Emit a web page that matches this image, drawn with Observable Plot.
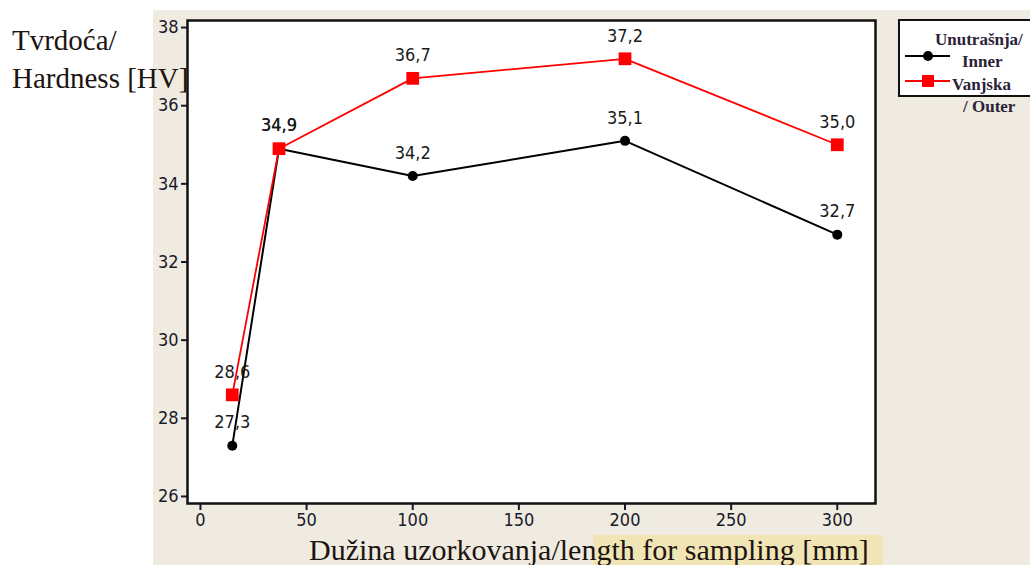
<!DOCTYPE html>
<html>
<head>
<meta charset="utf-8">
<script src="https://cdn.jsdelivr.net/npm/d3@7"></script>
<script src="https://cdn.jsdelivr.net/npm/@observablehq/plot@0.6"></script>
<style>
  html, body { margin: 0; padding: 0; background: #ffffff; }
  #page { position: relative; width: 1030px; height: 565px; overflow: hidden; background: #ffffff; }
  #panel { position: absolute; left: 153px; top: 10px; right: 0; bottom: 0; background: #efebe1; }
  #hl { position: absolute; left: 593px; top: 535px; width: 290px; height: 30px; background: #f1e5b6; }
  #chart { position: absolute; left: 0; top: 0; }
  .title { position: absolute; font-family: "Liberation Serif", "DejaVu Serif", serif; color: #1c1410; white-space: nowrap; }
  #ytitle { left: 12px; top: 21px; font-size: 29px; line-height: 38px; }
  #xtitle { left: 309px; top: 533px; font-size: 30px; line-height: 34px; }
  #legend { position: absolute; left: 898px; top: 19px; width: 140px; height: 78px; background: #ffffff; border: 2px solid #111; box-sizing: border-box; overflow: visible; }
  .lg { position: absolute; font-family: "Liberation Serif", "DejaVu Serif", serif; font-weight: bold; font-size: 17px; line-height: 20px; color: #2a2238; white-space: nowrap; }
</style>
</head>
<body>
<div id="page">
  <div id="panel"></div>
  <div id="hl"></div>
  <div id="legend"></div>
  <div id="chart"></div>
  <div class="title" id="ytitle">Tvrdoća/<br>Hardness [HV]</div>
  <div class="title" id="xtitle">Dužina uzorkovanja/length for sampling [mm]</div>
</div>
<script>
// Sampling lengths (mm) and hardness values (HV)
const lengths = [15, 37, 100, 200, 300];
const innerHV = [27.3, 34.9, 34.2, 35.1, 32.7];
const outerHV = [28.6, 34.9, 36.7, 37.2, 35.0];
const seriesNames = ["Unutrašnja/\nInner", "Vanjska\n/ Outer"];
const xTicks = [0, 50, 100, 150, 200, 250, 300];
const yTicks = [26, 28, 30, 32, 34, 36, 38];

const fmt = v => v.toFixed(1).replace(".", ",");
const inner = lengths.map((x, i) => ({x, y: innerHV[i], label: fmt(innerHV[i])}));
const outer = lengths.map((x, i) => ({x, y: outerHV[i], label: fmt(outerHV[i])}));

const tickFont = "'DejaVu Sans Condensed', 'Liberation Sans Narrow', sans-serif";

const chart = Plot.plot({
  width: 1030,
  height: 565,
  marginLeft: 187,
  marginRight: 155,
  marginTop: 20,
  marginBottom: 62,
  style: {background: "transparent", fontFamily: tickFont, fontSize: "18px", color: "#1a1a2a", overflow: "visible"},
  x: {domain: [-6.1, 318]},
  y: {domain: [25.82, 38.18]},
  marks: [
    Plot.frame({fill: "white"}),
    Plot.axisX({ticks: xTicks, tickSize: 7, tickPadding: 3, label: null, tickFormat: d => String(d), strokeWidth: 2}),
    Plot.axisY({ticks: yTicks, tickSize: 6, tickPadding: 3, label: null, tickFormat: d => String(d), strokeWidth: 2}),
    Plot.lineY(inner, {x: "x", y: "y", stroke: "#000", strokeWidth: 2}),
    Plot.dot(inner, {x: "x", y: "y", r: 5, fill: "#000"}),
    Plot.lineY(outer, {x: "x", y: "y", stroke: "#ff0000", strokeWidth: 1.8}),
    Plot.dot(outer, {x: "x", y: "y", r: 7.2, symbol: "square", fill: "#ff0000"}),
    Plot.text(inner, {x: "x", y: "y", text: "label", dy: -23, fill: "#1a1a1a"}),
    Plot.text(outer, {x: "x", y: "y", text: "label", dy: -23, fill: "#1a1a1a"}),
    Plot.frame({stroke: "#111", strokeWidth: 2.5})
  ]
});
document.getElementById("chart").appendChild(chart);

// Legend: swatches with line + marker, two-line labels per series
const legend = document.getElementById("legend");
const entries = [
  {name: seriesNames[0], color: "#000", symbol: "circle", lineY: 37, text: [{t: "Unutrašnja/", x: 35, y: 9}, {t: "Inner", x: 62, y: 31}]},
  {name: seriesNames[1], color: "#ff0000", symbol: "square", lineY: 62, text: [{t: "Vanjska", x: 52, y: 54}, {t: "/ Outer", x: 63, y: 76}]}
];
const ns = "http://www.w3.org/2000/svg";
const sw = document.createElementNS(ns, "svg");
sw.setAttribute("width", 60);
sw.setAttribute("height", 78);
sw.style.position = "absolute";
sw.style.left = "-2px";
sw.style.top = "-2px";
for (const e of entries) {
  const ln = document.createElementNS(ns, "line");
  ln.setAttribute("x1", 7); ln.setAttribute("x2", 52);
  ln.setAttribute("y1", e.lineY); ln.setAttribute("y2", e.lineY);
  ln.setAttribute("stroke", e.color); ln.setAttribute("stroke-width", 2);
  sw.appendChild(ln);
  if (e.symbol === "circle") {
    const c = document.createElementNS(ns, "circle");
    c.setAttribute("cx", 30); c.setAttribute("cy", e.lineY); c.setAttribute("r", 5);
    c.setAttribute("fill", e.color);
    sw.appendChild(c);
  } else {
    const r = document.createElementNS(ns, "rect");
    r.setAttribute("x", 24); r.setAttribute("y", e.lineY - 6);
    r.setAttribute("width", 12); r.setAttribute("height", 12);
    r.setAttribute("fill", e.color);
    sw.appendChild(r);
  }
  for (const t of e.text) {
    const d = document.createElement("div");
    d.className = "lg";
    d.textContent = t.t;
    d.style.left = t.x + "px";
    d.style.top = t.y + "px";
    legend.appendChild(d);
  }
}
legend.appendChild(sw);
</script>
</body>
</html>
